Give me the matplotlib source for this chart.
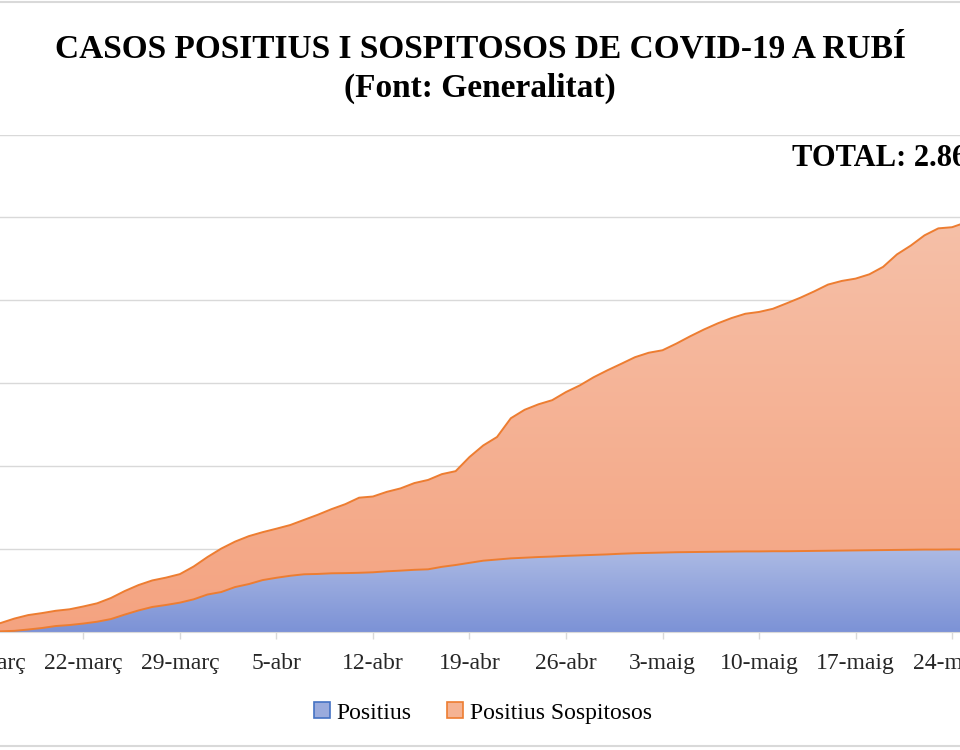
import numpy as np
import matplotlib
matplotlib.use("Agg")
import matplotlib.pyplot as plt
from matplotlib.patches import Patch
from matplotlib.lines import Line2D
from matplotlib.colors import LinearSegmentedColormap

# ---------------- data ----------------
# one value per day, starting 15-març
positius = [2, 4, 7, 15, 24, 36, 42, 51, 62, 78, 105, 130, 151, 163, 177, 197, 226, 241,
            271, 289, 313, 327, 339, 348, 350, 354, 355, 357, 360, 366, 370, 375, 378,
            393, 404, 417, 430, 437, 444, 448, 452, 455, 459, 462, 465, 468, 472, 475,
            477, 479, 481, 482, 483, 484, 485, 486, 486, 487, 487, 488, 489, 490, 491,
            492, 493, 494, 495, 496, 497, 497, 498, 498]
sospitosos = [33, 50, 74, 87, 90, 92, 95, 103, 111, 127, 142, 153, 160, 165, 172, 198, 226,
              262, 274, 289, 289, 296, 306, 328, 357, 387, 416, 453, 457, 479, 496, 523,
              539, 559, 566, 638, 695, 739, 845, 892, 921, 943, 988, 1025, 1071, 1110,
              1145, 1182, 1207, 1220, 1258, 1301, 1341, 1377, 1408, 1433, 1444, 1462,
              1495, 1528, 1565, 1605, 1626, 1639, 1664, 1708, 1782, 1834, 1895, 1937,
              1943, 1972]
tick_labels = ['15-març', '22-març', '29-març', '5-abr', '12-abr', '19-abr', '26-abr',
               '3-maig', '10-maig', '17-maig', '24-maig']
series_names = ['Positius', 'Positius Sospitosos']
title = 'CASOS POSITIUS I SOSPITOSOS DE COVID-19 A RUBÍ\n(Font: Generalitat)'
total_text = 'TOTAL: 2.860'

days = np.arange(len(positius))
tick_pos = np.arange(0, 7 * len(tick_labels), 7)

SERIF = 'Liberation Serif'
W, H = 960, 750
fig = plt.figure(figsize=(9.6, 7.5), dpi=100)
fig.patch.set_facecolor('white')

# axes placement (chart is cropped at left and right)
px0 = -13.2          # pixel of first day
ppd = 13.79          # pixels per day
xmax = 71
base_px, top_px = 632, 134.5
ax = fig.add_axes([px0 / W, (H - base_px) / H, xmax * ppd / W, (base_px - top_px) / H])

polys = ax.stackplot(days, positius, sospitosos, colors=['none', 'none'],
                     edgecolor='none', zorder=2)

blue_cmap = LinearSegmentedColormap.from_list('b', [(124/255, 146/255, 214/255),
                                                    (172/255, 186/255, 228/255)])
orange_cmap = LinearSegmentedColormap.from_list('o', [(244/255, 163/255, 128/255),
                                                      (246/255, 192/255, 168/255)])
tops = [max(positius), max(np.array(positius) + np.array(sospitosos))]
grad = np.linspace(0, 1, 256).reshape(-1, 1)
for poly, cmap, top, z in zip(polys, [blue_cmap, orange_cmap], tops, [2, 1.9]):
    im = ax.imshow(grad, cmap=cmap, origin='lower', aspect='auto',
                   extent=[days[0], days[-1], 0, top], zorder=z, interpolation='bilinear')
    im.set_clip_path(poly.get_paths()[0], transform=ax.transData)

total = np.array(positius) + np.array(sospitosos)
ax.plot(days, total, color='#ed7d31', lw=1.4, zorder=3)
ax.plot(days, positius, color='#ed7d31', lw=1.4, zorder=3)

ax.set_xlim(0, xmax)
ax.set_ylim(0, 3000)
ax.set_yticks(np.arange(500, 3001, 500))
ax.yaxis.grid(True, color='#d9d9d9', lw=1.0)
ax.set_axisbelow(True)
ax.tick_params(axis='y', left=False, labelleft=False)
ax.set_xticks(tick_pos)
ax.set_xticklabels(tick_labels, fontfamily=SERIF, fontsize=17, color='#262626')
ax.tick_params(axis='x', length=5, color='#d9d9d9', width=1, pad=10)
for s in ['top', 'right', 'left']:
    ax.spines[s].set_visible(False)
ax.spines['bottom'].set_color('#d9d9d9')
ax.set_facecolor('none')

# titles
lines = title.split('\n')
fig.text(0.5, 1 - 57 / H, lines[0], ha='center', va='baseline', fontfamily=SERIF,
         fontweight='bold', fontsize=24)
fig.text(0.5, 1 - 97 / H, lines[1], ha='center', va='baseline', fontfamily=SERIF,
         fontweight='bold', fontsize=24)
fig.text(792 / W, 1 - 166 / H, total_text, ha='left', va='baseline', fontfamily=SERIF,
         fontweight='bold', fontsize=22)

handles = [Patch(facecolor='#9aabdd', edgecolor='#4472c4', lw=1.2),
           Patch(facecolor='#f5b393', edgecolor='#ed7d31', lw=1.2)]
fig.legend(handles, series_names, loc='center', bbox_to_anchor=(483 / W, 1 - 713 / H),
           ncol=2, frameon=False, prop={'family': SERIF, 'size': 17},
           handlelength=0.65, handleheight=0.65, handletextpad=0.3, columnspacing=1.5)

for yy in [2, 746]:
    fig.add_artist(Line2D([0, 1], [1 - yy / H] * 2, transform=fig.transFigure,
                          color='#d9d9d9', lw=1.5))

fig.savefig('out.png', dpi=100)
